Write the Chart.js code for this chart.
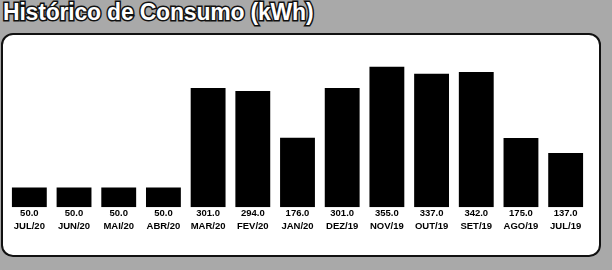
<!DOCTYPE html>
<html>
<head>
<meta charset="utf-8">
<script src="https://cdn.jsdelivr.net/npm/chart.js@4/dist/chart.umd.min.js"></script>
<style>
  html, body { margin: 0; padding: 0; }
  body { width: 612px; height: 270px; background: #a9a9a9; position: relative; overflow: hidden; }
  #title {
    position: absolute; left: 3px; top: -1px;
    font: bold 23px "Liberation Sans", Arial, sans-serif;
    color: #fff; -webkit-text-stroke: 3px #111; paint-order: stroke fill;
    letter-spacing: -0.2px;
  }
  #panel {
    position: absolute; left: 1px; top: 33px; width: 596px; height: 220px;
    background: #fff; border: 2px solid #111; border-radius: 12px;
  }
  #wrap { position: absolute; left: 0; top: 0; width: 612px; height: 270px; }
</style>
</head>
<body>
<div id="title">Histórico de Consumo (kWh)</div>
<div id="panel"></div>
<div id="wrap"><canvas id="chart" width="612" height="270"></canvas></div>
<script>
// ---- dados ----
const meses = ["JUL/20", "JUN/20", "MAI/20", "ABR/20", "MAR/20", "FEV/20", "JAN/20",
               "DEZ/19", "NOV/19", "OUT/19", "SET/19", "AGO/19", "JUL/19"];
const consumo = [50, 50, 50, 50, 301, 294, 176, 301, 355, 337, 342, 175, 137];

new Chart(document.getElementById("chart"), {
  type: "bar",
  data: {
    labels: meses,
    datasets: [
      {
        data: consumo,
        backgroundColor: "#000",
        barPercentage: 0.78,
        categoryPercentage: 1,
      },
    ],
  },
  options: {
    responsive: false,
    animation: false,
    devicePixelRatio: 1,
    layout: { padding: { left: 7, right: 24, top: 60, bottom: 37 } },
    plugins: { legend: { display: false }, tooltip: { enabled: false } },
    scales: {
      y: { display: false, min: 0, max: 372 },
      x: {
        grid: { display: false, drawTicks: false },
        border: { display: false },
        ticks: {
          padding: 0,
          autoSkip: false,
          maxRotation: 0,
          color: "#000",
          font: { family: "'Liberation Sans', Arial, sans-serif", size: 9.5, weight: "bold", lineHeight: 1.35 },
          callback: (v, i) => [consumo[i].toFixed(1), meses[i]],
        },
      },
    },
  },
});
</script>
</body>
</html>
